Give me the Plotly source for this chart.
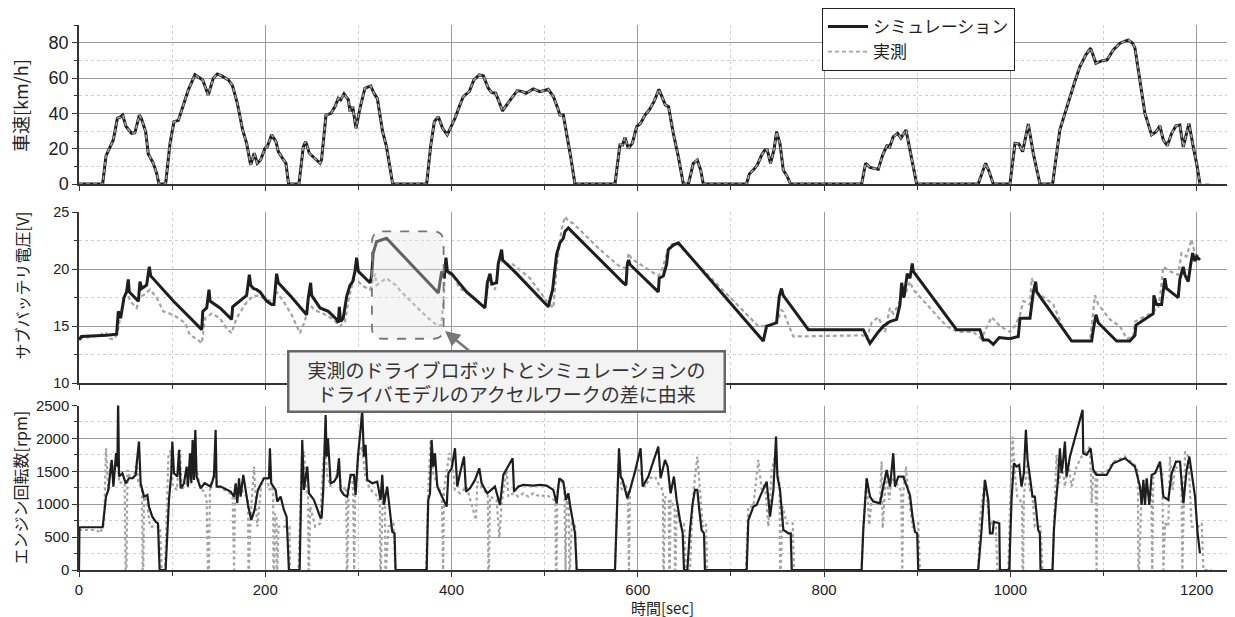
import plotly.graph_objects as go

# ---------------- data ----------------
speed_t = [0, 25.4, 29, 33.3, 36.9, 41.2, 44, 46.9, 50.5, 56.5, 60, 64.8, 67, 71.6, 74.4, 79.8, 83.4, 85.9, 93,
           97.7, 102, 106.7, 110.3, 113.8, 117.4, 124.5, 129, 132.8, 138.8, 144.2, 148.5, 153.2, 160.3, 164.6, 170,
           175.7, 180, 184.3, 188.2, 191.4, 195, 199.7, 202, 206.8, 211.5, 214, 218.6, 222.2, 225, 236.2, 240.8,
           243.4, 247.3, 253.4, 258.8, 260.4, 265.2, 270.6, 274.9, 278.4, 281, 284.5, 289.2, 291, 293.9, 297.4,
           301.7, 307, 313.2, 316.7, 320.3, 326, 330.2, 336.8, 373.3, 377.5, 381.5, 385.8, 390.4, 395.4, 398,
           403.7, 408.3, 412.6, 419, 424, 429.8, 434.1, 439.5, 443.1, 447.4, 451.3, 454.8, 459.2, 466.3, 470.6,
           476.3, 479.9, 487.8, 494.9, 503.9, 509.3, 514.6, 516.4, 520, 523.6, 527.9, 532.5, 575.5, 580.8, 583.7,
           586.2, 589.8, 594.1, 598.8, 603, 607.7, 612.4, 617.4, 622.7, 627.4, 629.5, 633, 638.1, 643.5, 648.9,
           654.3, 659.6, 663.9, 667.5, 670.3, 716.8, 719.7, 724.7, 728.3, 733, 736.5, 739, 742.5, 746.2, 749,
           752.6, 756.2, 760.5, 764.1, 840.3, 844.6, 849.2, 858.2, 862.9, 867.8, 870, 874.3, 879, 882.5, 888,
           892.2, 899.4, 965.5, 969.1, 973.4, 977, 981.7, 999.6, 1005, 1009.2, 1013.2, 1019.3, 1024.6, 1031.8,
           1045.4, 1049, 1053.2, 1058.6, 1064, 1069.3, 1074.7, 1081.1, 1086.2, 1091.9, 1098, 1104, 1110.5, 1117.7,
           1126.6, 1131.3, 1133.8, 1139.2, 1144.5, 1151.7, 1156.5, 1160.6, 1164.2, 1168.5, 1173.2, 1177.8, 1182,
           1185.7, 1191.8, 1196.4, 1200, 1203.6]
speed_sim = [0, 0, 15.9, 21, 25, 37.2, 37.8, 39, 32.5, 28.7, 29, 39, 37, 29.6, 17, 11.7, 6, 0, 0,
             23, 35.3, 36, 42, 46.6, 53.3, 61.8, 60, 58.9, 50.4, 59.9, 62.3, 61.2, 58.9, 56, 45.7,
             30.6, 23, 10.8, 17.4, 11.7, 13.6, 20.2, 21, 27.8, 24, 18.3, 14.5, 11.7, 0, 0, 21,
             24, 17.4, 14.5, 11.7, 13.6, 39, 40, 43.8, 48.5, 47.6, 51, 47.6, 41, 43.8, 31.5,
             42.9, 54.2, 55.5, 51.4, 48.5, 29.6, 21, 0, 0, 21, 35.3, 38.1, 31.5, 27.8, 30.6,
             37.2, 43.8, 49.5, 52.3, 58.9, 61.8, 61.2, 54.2, 51.7, 51.4, 46.6, 41.4, 44.8, 49.5, 52.9,
             52.3, 51.4, 53.8, 52.3, 53.6, 49.5, 42, 39, 39, 28.7, 15.5, 0, 0, 22.1, 22.1,
             26.4, 20.2, 23, 32.5, 34.4, 39, 42, 46.6, 53.6, 47.6, 44.8, 43.8, 28.7, 15.5, 0,
             0, 11.7, 13.6, 7.9, 0, 0, 5.7, 8.3, 10.8, 16.4, 19.3, 19.3, 11.7, 19.3, 29.6,
             23, 7.9, 4.2, 0, 0, 11.7, 9.4, 8.3, 16.4, 22.1, 20.2, 26.8, 28.7, 26, 30.6,
             19.3, 0, 0, 5.1, 11.7, 7.4, 0, 0, 23, 22.7, 18.3, 34, 17.4, 0,
             0, 14.5, 30.6, 40, 49.5, 58, 66.5, 73.1, 76.9, 68.4, 69.7, 70.3, 75.9, 79.7,
             81.6, 79.7, 76.9, 58.9, 40, 27.8, 29.6, 32.9, 25, 21.7, 28.7, 32.9, 33.4,
             21, 34.4, 21, 11.7, 0]
speed_meas_t = speed_t + [1216]
speed_meas = speed_sim + [0]

volt_sim_t = [0, 2.6, 29.6, 40.4, 42.2, 44.7, 48.3, 51.1, 52.9, 54, 63.7, 65.5, 67.3, 72.6, 75.5, 77, 101.3, 122.7,
              130, 131.8, 132.9, 137.1, 139.6, 140.7, 151.4, 162.1, 163.9, 165, 180, 182.9, 184.3, 187.2, 190.8,
              194.3, 201.5, 206.8, 209.3, 212.2, 214, 226.5, 240.8, 244.4, 246.2, 248.7, 249.8, 258.8, 267.7,
              276.6, 278.4, 279.5, 280.9, 283.7, 287.4, 291, 293.9, 296.3, 298.1, 299.9, 312.4, 314.2, 315.9,
              319.5, 330.2, 385.8, 389.4, 392.2, 394, 395.5, 400, 416.2, 435.9, 438.4, 441.3, 443.1, 448.4,
              450.2, 453.8, 454.9, 469.9, 503.9, 505.7, 508.5, 512.8, 516.4, 520, 521.8, 525.4, 529, 584.4,
              587.3, 588.7, 590.2, 591.6, 622, 623, 627.4, 630.9, 632.7, 638.1, 643.5, 734.7, 738.3, 741.9,
              749, 751.9, 754.3, 756.1, 783.1, 842.1, 849.3, 858.2, 863.6, 870.7, 877.9, 881.5, 883.3, 885.8,
              889.3, 892.2, 894.7, 895.8, 942.2, 967.3, 970.9, 976.3, 981.7, 988.1, 999.6, 1008.5, 1010.4,
              1021.1, 1024.7, 1027.2, 1028.3, 1065.8, 1087.3, 1089.1, 1091.9, 1094.4, 1114.1, 1128.4, 1133.8,
              1134.9, 1153.4, 1154.1, 1157, 1162.4, 1165.9, 1167.7, 1180.2, 1182, 1185.6, 1187.4, 1191,
              1193.6, 1195.7, 1198.2, 1200, 1203.6]
volt_sim = [13.8, 14.1, 14.2, 14.3, 16.3, 15.7, 17.5, 18.0, 19.1, 18.0, 17.2, 18.9, 18.3, 18.6, 20.2, 19.4, 17.2, 15.4,
            14.8, 14.7, 16.3, 16.6, 18.2, 17.2, 16.6, 15.7, 15.6, 16.7, 17.7, 19.5, 18.6, 18.3, 18.2,
            18.0, 17.2, 16.9, 16.9, 19.6, 18.8, 17.7, 16.3, 16.0, 17.5, 18.8, 17.7, 16.6, 16.3,
            15.6, 15.3, 16.7, 15.4, 15.7, 17.6, 18.6, 18.9, 19.8, 21.0, 19.8, 18.8, 19.4, 21.4,
            22.4, 22.7, 17.9, 19.8, 19.2, 21.0, 19.8, 19.6, 18.0, 16.6, 18.8, 19.6, 18.7, 18.8,
            20.5, 21.7, 20.8, 19.6, 16.7, 17.3, 18.2, 21.3, 22.3, 22.7, 23.3, 23.6, 23.3, 18.8,
            18.6, 20.4, 20.8, 20.4, 18.0, 19.2, 19.4, 20.4, 21.7, 22.1, 22.3, 13.7, 15.0, 15.1,
            15.3, 17.6, 18.3, 17.7, 14.7, 14.7, 13.5, 14.5, 15.0, 15.4, 15.6, 16.9, 18.8, 17.5,
            19.6, 19.2, 20.5, 19.8, 14.7, 14.7, 13.8, 13.8, 13.4, 14.0, 13.9, 14.1, 15.7,
            15.7, 18.0, 18.9, 18.0, 13.7, 13.7, 14.7, 16.0, 15.3, 13.7, 13.7, 14.2,
            15.1, 16.1, 17.7, 16.9, 16.9, 19.2, 18.3, 17.5, 19.1, 20.2, 19.5, 18.9,
            20.4, 21.4, 20.7, 21.1, 20.8]

volt_meas_t = [0, 22.5, 27.9, 33.3, 38.6, 42.2, 47.6, 51.1, 54.8, 61.9, 65.5, 69.1, 76.2, 83.4, 90.5, 97.7, 104.8,
               113.8, 119.2, 126.3, 131.8, 135.3, 142.4, 151.4, 158.5, 163.9, 169.2, 178.2, 187.2, 194.3, 201.5,
               208.6, 212.2, 219.4, 228.3, 233.7, 237.3, 239, 242.6, 246.2, 253.4, 262.3, 273, 280.2, 285.6,
               289.2, 294.5, 299.9, 305.3, 312.4, 315.9, 317.8, 319.5, 330, 340, 345, 366, 375, 385.8, 389,
               391, 393, 396.6, 402, 409.1, 421.6, 430.5, 435.9, 439.5, 443.1, 446.7, 451.7, 455.3, 466.3,
               484.2, 502.1, 509.3, 512.8, 518.2, 521.8, 525.4, 530.7, 559.4, 580.9, 588, 590, 593.4, 622,
               625.6, 630.9, 634.6, 641.6, 659.6, 702.5, 729.4, 738.3, 749, 754.3, 756.1, 766.9, 842.1, 845.7,
               851, 858.2, 865.4, 870.7, 874.3, 877.9, 883.3, 888, 892.2, 895.8, 910.1, 931.5, 944, 960.1,
               969, 972.6, 979.8, 988.8, 999.6, 1005, 1010.4, 1014, 1021.1, 1022.9, 1028.3, 1046.1, 1056.8,
               1065.8, 1085.5, 1090.9, 1094.4, 1106.9, 1117.7, 1124.9, 1132, 1133.8, 1149.9, 1158.8, 1161.3,
               1164.2, 1171.3, 1180.2, 1183.8, 1189.2, 1194.5, 1198.2, 1203.6]
volt_meas = [13.9, 14.2, 14.5, 13.9, 13.9, 14.8, 17.2, 18.2, 17.2, 16.6, 17.6, 17.7, 18.2, 17.5, 16.3, 16.1, 15.8,
             15.3, 14.2, 13.9, 13.5, 15.7, 16.1, 15.7, 14.8, 14.4, 15.7, 16.9, 17.7, 17.6, 17.3,
             17.2, 18.0, 17.2, 16.0, 15.0, 14.4, 14.8, 15.4, 17.0, 16.4, 16.1, 15.6, 15.0, 15.4,
             17.2, 19.1, 18.9, 18.5, 18.2, 19.2, 19.6, 18.6, 19.2, 18.6, 18.1, 16.4, 15.7, 15.0, 15.1,
             17.0, 19.5, 19.6, 19.4, 18.3, 17.7, 17.0, 16.7, 18.6, 18.8, 18.2, 21.0, 20.5, 20.4,
             19.2, 17.2, 16.6, 20.1, 23.5, 24.6, 24.2, 24.0, 21.7, 20.2, 20.1, 21.4, 20.9, 19.4,
             19.8, 21.3, 22.1, 22.3, 20.8, 17.2, 15.0, 15.0, 15.3, 16.4, 16.3, 14.1, 14.2, 13.9,
             15.3, 15.8, 14.5, 16.6, 16.1, 16.6, 17.5, 18.0, 18.9, 18.2, 16.9, 15.0, 14.5, 14.5,
             13.9, 14.5, 15.8, 15.0, 14.5, 15.0, 16.0, 17.2, 16.9, 19.2, 18.0, 16.9, 14.8,
             13.7, 13.7, 17.7, 16.9, 15.6, 15.0, 13.9, 14.1, 15.4, 16.1, 16.6, 18.0,
             20.2, 19.8, 19.5, 21.4, 21.1, 22.6, 21.4, 21.0]

rpm_sim_t = [0, 0.5, 25.4, 29, 31.5, 35.1, 36.9, 39.8, 41.2, 42, 43, 46.6, 50.2, 53.7, 57.3, 60.9, 62.7, 64.4, 66.2,
             69.8, 73.4, 75.1, 78.7, 82.3, 84.8, 86.6, 93, 96.6, 99.1, 100.2, 102, 105.6, 107.4, 109.2, 112.7,
             115.6, 117, 119.2, 120.6, 122, 123.5, 124.9, 126.3, 130.6, 134.9, 137.8, 141.3, 144.9, 146.7, 147.8,
             152.1, 162.8, 166.4, 168.2, 170, 171.8, 173.5, 176.4, 178.9, 181.4, 185, 188.5, 192.1, 198.6, 204,
             205, 206.4, 211.1, 212.9, 216.5, 220, 222.9, 225.4, 236.9, 239.7, 241.5, 245.1, 246.9, 252.3,
             258.7, 260.5, 262.3, 264.8, 265.9, 267.3, 270.2, 273.8, 277.3, 279.1, 280.9, 284.5, 288, 291.6,
             295.2, 297, 299.5, 302.3, 304.1, 305.9, 307.7, 309.5, 314.9, 320.2, 323.8, 325.6, 327.4, 330.9,
             334.5, 336.3, 338.8, 339.9, 373.3, 375, 376.9, 378.6, 380.4, 382.2, 384.7, 389.4, 394.8, 396.6,
             400.1, 403.7, 406.2, 409.1, 413.4, 415.5, 419.8, 425.2, 429.8, 432.3, 438.4, 446.6, 452, 455.6,
             461, 465.6, 467.1, 471.8, 477.1, 487.8, 495, 502.1, 509.3, 512.8, 515.7, 520, 522.9, 525.4, 527.2,
             530.1, 532.6, 534.4, 575.5, 578, 579.8, 581.6, 583.7, 588.7, 591.6, 597, 599.8, 603, 605.2, 611.3,
             616.6, 622, 624.5, 629.2, 632, 635.2, 638.8, 641.7, 645.3, 648.2, 649.6, 653.2, 656, 658.9, 661.4,
             663.9, 666, 668.5, 671.1, 672.1, 716.9, 718.7, 724.1, 727.6, 731.2, 734.8, 738.4, 742, 745.6,
             748.4, 749.9, 752.7, 756.3, 761.7, 764.2, 765.3, 840.3, 842.1, 845.7, 849.3, 852.9, 860, 867.2,
             870.8, 874.3, 876.1, 879.7, 885, 888.6, 892.2, 895, 897.5, 900, 901.1, 965.5, 969.1, 972.7, 976.3,
             978.1, 980.9, 982.3, 988.1, 988.8, 998.8, 1001.3, 1003.8, 1006.7, 1009.5, 1012, 1014.5, 1016.7,
             1018.5, 1021, 1023.8, 1026.3, 1029.9, 1031.7, 1032.4, 1045.3, 1046.8, 1048.9, 1051.4, 1053.2, 1055,
             1056.8, 1058.6, 1060.4, 1064, 1077.6, 1078.3, 1081.9, 1086.2, 1089.1, 1092.6, 1103.4, 1110.5, 1123,
             1133.8, 1139.2, 1141, 1142.8, 1144.6, 1146.4, 1149.2, 1151.7, 1155.3, 1160.7, 1164.3, 1169.6,
             1173.2, 1177.9, 1182.2, 1185.8, 1189.3, 1192.2, 1198.3, 1201.1, 1203.6]
rpm_sim = [0, 650, 650, 1115, 1217, 1673, 1268, 1775, 1572, 2600, 1420, 1470, 1318, 1394, 1394, 1445, 1724, 1952, 1318,
           1115, 1141, 963, 811, 735, 710, 0, 0, 1065, 1470, 1952, 1470, 1420, 1825, 1242, 1318,
           1572, 1268, 1775, 1318, 1977, 1369, 2129, 1420, 1242, 1318, 1293, 1268, 1420, 2129, 1268,
           1268, 1191, 1115, 1318, 1014, 1394, 1115, 1445, 1217, 989, 760, 913, 1217, 1394, 1394,
           1850, 1318, 1217, 1039, 1115, 913, 811, 0, 0, 1977, 1217, 1572, 1166, 1065,
           811, 786, 1217, 2357, 1724, 2003, 1318, 1343, 1420, 1698, 1217, 1141, 1115, 1445,
           1445, 1141, 1724, 2129, 2433, 1724, 1901, 1369, 1318, 1343, 1065, 1445, 989, 1268,
           811, 583, 558, 0, 0, 1065, 1166, 1977, 1572, 1775, 1268, 1115, 963, 1470,
           1546, 1850, 1268, 1470, 1724, 1191, 1242, 1369, 1546, 1318, 1166, 1268, 989, 1445,
           1572, 1698, 1191, 1268, 1293, 1283, 1293, 1283, 1217, 1014, 1394, 1343, 1065, 1166, 989,
           786, 558, 0, 0, 1065, 1850, 1420, 1369, 1090, 1217, 1496, 1648, 1850, 1268, 1420,
           1648, 1876, 1394, 1673, 1572, 1166, 1420, 1065, 760, 558, 0, 0, 608, 1014, 1217,
           1217, 913, 608, 558, 0, 0, 760, 963, 989, 1115, 1217, 1343, 811, 1217,
           2028, 1420, 1217, 608, 558, 558, 0, 0, 608, 1394, 1115, 1039, 1014, 1521,
           1268, 1775, 1268, 1420, 1420, 1268, 1141, 811, 583, 558, 0, 0, 608, 1369, 1065,
           558, 558, 735, 710, 0, 0, 1065, 1622, 1572, 1597, 1268, 1470, 2129,
           1673, 1420, 1115, 1115, 608, 558, 0, 0, 608, 1014, 1420, 1850, 1470,
           1673, 1952, 1420, 1724, 2433, 1775, 1749, 1850, 1521, 1445, 1445, 1622, 1698,
           1572, 1268, 989, 1369, 989, 1394, 989, 1445, 1470, 1648, 1115, 1065,
           1470, 1648, 1648, 1014, 1521, 1724, 1115, 558, 254]

rpm_meas_t = [0, 19, 22.6, 26.9, 29, 31.5, 34, 36.9, 41.2, 43.3, 46.9, 49, 50, 51, 52, 54.8, 58.4, 62, 63.7, 67.5,
              68.4, 69, 69.8, 72.6, 76.2, 83.4, 87, 88.8, 92.4, 96, 98.5, 100.6, 105, 108.4, 110.2, 115.6, 119.2,
              122.8, 126.3, 129.9, 135.3, 137, 138.5, 139.5, 140.6, 146, 148.5, 153.2, 162.2, 165, 165.7, 166.5,
              167.5, 174.7, 180.1, 181.5, 181.9, 182.5, 184.3, 187.9, 191.5, 196.2, 201.5, 204.4, 207, 208.5,
              208.8, 209.5, 210.5, 212, 212.4, 213, 214.2, 221.4, 226, 226.7, 235.7, 239.3, 241.8, 243.9, 246,
              246.4, 247, 248.2, 253.6, 259, 261.8, 264.3, 266.1, 269.7, 275.1, 278.7, 282.3, 285.9, 287, 287.6,
              288.2, 289.4, 292, 294.3, 294.8, 295.4, 296.6, 300.2, 303.8, 307.4, 312.7, 318.1, 321.7, 323,
              323.5, 324, 326.4, 328.5, 328.9, 329.5, 332.4, 337.8, 339.6, 372.6, 375, 377.6, 380.4, 384,
              389.5, 390.5, 391, 391.9, 397.6, 401.2, 403.7, 409.1, 416.2, 426.2, 427.7, 434.1, 439, 439.5,
              440.2, 441.3, 448.4, 451.3, 453.8, 459.2, 461, 466.4, 471.8, 477.1, 482.5, 487.8, 495, 502.1,
              510, 511.5, 512.1, 512.8, 513.6, 516.4, 521.2, 521.8, 522.4, 523.6, 526, 526.5, 527.2, 529,
              532.6, 534.4, 575.5, 578, 580.2, 582.7, 586.2, 589.3, 589.8, 590.5, 591.6, 597, 602.3, 607.7,
              613.1, 618.5, 622, 627, 627.4, 628, 629.2, 633.3, 633.8, 634.4, 635.2, 639.4, 639.9, 640.5,
              641.7, 646, 649.6, 651.7, 656, 658.9, 661.4, 663.9, 666.8, 669.6, 673.2, 674.6, 716.1, 718.7,
              724.1, 729.4, 733, 736.6, 740.2, 743.8, 747.3, 750.9, 752.3, 752.7, 753.5, 755.6, 759.9, 766.3,
              767.8, 840.3, 842.1, 845.7, 848.5, 851, 860, 861.8, 862.9, 866.5, 870, 872.5, 877.9, 882.8,
              883.3, 884, 885, 887.9, 890.4, 895, 901.1, 902.9, 965.5, 967.3, 972.7, 978.1, 981.7, 984.5,
              986, 997.8, 1000.3, 1002.4, 1004.9, 1007.4, 1010.3, 1012.6, 1013.1, 1013.8, 1014.5, 1018.1,
              1021, 1023.8, 1026.3, 1032.4, 1034.6, 1045.3, 1046.8, 1049.6, 1052.5, 1055, 1058.6, 1062.1,
              1065.7, 1071.1, 1076.5, 1085.5, 1087.3, 1089.1, 1091.4, 1091.9, 1092.6, 1093.4, 1103.4, 1110.5,
              1123, 1133.8, 1137, 1137.4, 1138.2, 1141, 1146.4, 1151.2, 1151.7, 1152.4, 1153.5, 1160.7,
              1163.2, 1163.6, 1164.3, 1166.1, 1169.6, 1171.4, 1174.3, 1176.8, 1182.2, 1183.6, 1184, 1184.7,
              1185.8, 1187.6, 1191.1, 1194.7, 1201.9, 1205.5, 1207.3, 1216.2]
rpm_meas = [608, 608, 558, 710, 1850, 1217, 1622, 1521, 1749, 1318, 1343, 1300, 0, 0, 1521, 1394, 1394, 1648, 1318, 1250,
            0, 0, 1115, 1065, 659, 659, 659, 0, 0, 1724, 1825, 1268, 1217, 1825, 1217, 1318, 1420,
            1394, 1521, 1268, 1166, 1065, 0, 0, 1217, 1546, 1268, 1242, 1166, 1100, 0, 0,
            1115, 1217, 1115, 1050, 0, 0, 811, 1572, 659, 1369, 1420, 1217, 1268, 1200,
            0, 0, 862, 800, 0, 0, 659, 659, 659, 0, 0, 1724, 1800, 1217, 1150,
            0, 0, 963, 659, 710, 1572, 1977, 1470, 1268, 1369, 1572, 1166, 1268, 1200, 0,
            0, 1217, 1420, 1300, 0, 0, 1268, 1724, 1876, 1420, 1217, 1166, 1065, 1000,
            0, 0, 1217, 1100, 0, 0, 659, 710, 0, 0, 1217, 1977, 1470, 1318,
            1150, 0, 0, 1217, 1775, 1572, 1217, 1166, 1268, 760, 1343, 1217, 1150, 0,
            0, 1115, 1065, 482, 1014, 1521, 1115, 1166, 1115, 1166, 1115, 1166, 1115, 1141,
            1065, 1050, 0, 0, 1217, 1394, 1250, 0, 0, 1065, 1000, 0, 0, 710,
            684, 0, 0, 1166, 1724, 1217, 1318, 1200, 0, 0, 1217, 1496, 1521, 1268,
            1394, 1420, 1318, 1200, 0, 0, 1115, 1050, 0, 0, 1065, 950, 0, 0,
            913, 659, 710, 0, 0, 1014, 1420, 1724, 1217, 659, 710, 0, 0, 963,
            963, 1673, 1217, 1318, 659, 1521, 1724, 1369, 1300, 0, 0, 963, 710, 710,
            0, 0, 710, 1369, 684, 1065, 1014, 1648, 634, 1470, 1065, 1394, 1318, 1200,
            0, 0, 1166, 1572, 1166, 659, 710, 0, 0, 760, 1369, 659, 760, 659,
            0, 0, 1268, 2028, 1470, 1115, 1065, 1000, 0, 0, 1115, 1622,
            1217, 1115, 659, 659, 0, 0, 710, 1749, 1318, 1673, 1268, 1648,
            1268, 1572, 1724, 1876, 1014, 1521, 1450, 0, 0, 1470, 1496, 1648,
            1724, 1597, 1500, 0, 0, 1217, 1369, 1350, 0, 0, 1420, 1597,
            1500, 0, 0, 710, 659, 1724, 1217, 1572, 1521, 1450, 0, 0,
            710, 1800, 1724, 659, 659, 710, 0, 0]

x_ticks = [0, 200, 400, 600, 800, 1000, 1200]
names = ["シミュレーション", "実測"]
callout_text = "実測のドライブロボットとシミュレーションの<br>ドライバモデルのアクセルワークの差に由来"

# ---------------- styles ----------------
SIM = "#1e1e1e"
MEAS = "#a3a3a3"
FONT = "Liberation Sans, Arial, Noto Sans CJK JP"
JFONT = "Noto Sans CJK JP, Liberation Sans"
GRID = "#9c9c9c"
MINORGRID = "#cfcfcf"

# The page has an 8px body margin, so the figure is drawn 8px in from the window corner.
OFF = 8
FIG_W, FIG_H = 1235 - OFF, 617 - OFF
ML, MR, MT, MB = 79 - OFF, 3, 0, 47
PH = FIG_H - MT - MB
PW = FIG_W - ML - MR
PLOT_BOTTOM_PAGE = OFF + FIG_H - MB  # page y of the paper's y=0


def py(ypx):  # window pixel y -> paper fraction
    return (PLOT_BOTTOM_PAGE - ypx) / PH


def px(xpx):  # window pixel x -> paper fraction
    return (xpx - OFF - ML) / PW


fig = go.Figure()

# top: speed
fig.add_trace(go.Scatter(x=speed_t, y=speed_sim, mode="lines", name=names[0], legendgroup="sim",
                         line=dict(color=SIM, width=3), xaxis="x", yaxis="y"))
fig.add_trace(go.Scatter(x=speed_meas_t, y=speed_meas, mode="lines", name=names[1], legendgroup="meas",
                         line=dict(color=MEAS, width=1.6, dash="4px,3px"), xaxis="x", yaxis="y"))
# middle: voltage
fig.add_trace(go.Scatter(x=volt_meas_t, y=volt_meas, mode="lines", name=names[1], legendgroup="meas",
                         showlegend=False, line=dict(color=MEAS, width=2.2, dash="4px,3px"),
                         xaxis="x2", yaxis="y2"))
fig.add_trace(go.Scatter(x=volt_sim_t, y=volt_sim, mode="lines", name=names[0], legendgroup="sim",
                         showlegend=False, line=dict(color=SIM, width=3), xaxis="x2", yaxis="y2"))
# bottom: rpm
fig.add_trace(go.Scatter(x=rpm_meas_t, y=rpm_meas, mode="lines", name=names[1], legendgroup="meas",
                         showlegend=False, line=dict(color=MEAS, width=2.2, dash="dot"),
                         xaxis="x3", yaxis="y3"))
fig.add_trace(go.Scatter(x=rpm_sim_t, y=rpm_sim, mode="lines", name=names[0], legendgroup="sim",
                         showlegend=False, line=dict(color=SIM, width=2.2), xaxis="x3", yaxis="y3"))


def xaxis(anchor, labels):
    return dict(anchor=anchor, domain=[0, 1], range=[0, 1238], tickmode="array", tickvals=x_ticks,
                showticklabels=labels, tickfont=dict(family=FONT, size=15, color="#222"),
                showline=True, linecolor="#333", linewidth=1.5, ticks="outside", ticklen=5,
                tickcolor="#333", showgrid=True, gridcolor=GRID, gridwidth=1, zeroline=False,
                automargin=False,
                minor=dict(dtick=100, tick0=0, showgrid=True, gridcolor=MINORGRID, griddash="dot",
                           ticks="outside", ticklen=4, tickcolor="#333"))


def yaxis(anchor, dom, rng, dtick, mdtick, fsize):
    return dict(anchor=anchor, domain=dom, range=rng, dtick=dtick, tick0=0,
                tickfont=dict(family=FONT, size=fsize, color="#222"),
                showline=True, linecolor="#333", linewidth=1.5, ticks="outside", ticklen=5,
                tickcolor="#333", showgrid=True, gridcolor=GRID, gridwidth=1, zeroline=False,
                automargin=False,
                minor=dict(dtick=mdtick, showgrid=True, gridcolor=MINORGRID, griddash="dot",
                           ticks="outside", ticklen=3, tickcolor="#333"))


# dashed rounded box around the discrepancy (data coords of middle panel)
bx0, bx1, by0, by1 = 314.5, 391.5, 13.9, 23.3
rx, ry = 11, 1.0
box_path = (f"M {bx0+rx},{by1} L {bx1-rx},{by1} Q {bx1},{by1} {bx1},{by1-ry} "
            f"L {bx1},{by0+ry} Q {bx1},{by0} {bx1-rx},{by0} L {bx0+rx},{by0} "
            f"Q {bx0},{by0} {bx0},{by0+ry} L {bx0},{by1-ry} Q {bx0},{by1} {bx0+rx},{by1} Z")

fig.update_layout(
    width=FIG_W, height=FIG_H,
    margin=dict(l=ML, r=MR, t=MT, b=MB),
    paper_bgcolor="white", plot_bgcolor="white",
    font=dict(family=FONT, color="#222"),
    xaxis=xaxis("y", False),
    xaxis2=xaxis("y2", False),
    xaxis3=xaxis("y3", True),
    yaxis=yaxis("x", [py(184), py(25)], [0, 90], 20, 10, 18),
    yaxis2=yaxis("x2", [py(383.3), py(212)], [10, 25], 5, 2.5, 14.5),
    yaxis3=yaxis("x3", [0.0, py(405.5)], [0, 2500], 500, 250, 15),
    showlegend=True,
    legend=dict(x=px(822), y=py(8), xanchor="left", yanchor="top", bgcolor="white",
                bordercolor="#222", borderwidth=1, font=dict(family=JFONT, size=17, color="#222"),
                itemwidth=40, tracegroupgap=0),
    shapes=[dict(type="path", path=box_path, xref="x2", yref="y2", layer="above",
                 fillcolor="rgba(225,225,225,0.35)", line=dict(color="#777", width=1.8, dash="dash"))],
    annotations=[
        dict(text="車速[km/h]", xref="paper", yref="paper", x=px(20), y=py(106), textangle=-90,
             showarrow=False, font=dict(family=JFONT, size=18, color="#222"), xanchor="center", yanchor="middle"),
        dict(text="サブバッテリ電圧[V]", xref="paper", yref="paper", x=px(21), y=py(285.5), textangle=-90,
             showarrow=False, font=dict(family=JFONT, size=16, color="#222"), xanchor="center", yanchor="middle"),
        dict(text="エンジン回転数[rpm]", xref="paper", yref="paper", x=px(19), y=py(487.5), textangle=-90,
             showarrow=False, font=dict(family=JFONT, size=16, color="#222"), xanchor="center", yanchor="middle"),
        dict(text="時間[sec]", xref="paper", yref="paper", x=px(662), y=py(607), showarrow=False,
             font=dict(family=JFONT, size=15, color="#222"), xanchor="center", yanchor="middle"),
        dict(text=callout_text, xref="paper", yref="paper", x=px(445), y=py(331),
             ax=61, ay=50, axref="pixel", ayref="pixel", showarrow=True, arrowhead=2, arrowsize=1.2,
             arrowwidth=2.5, arrowcolor="#777", standoff=0,
             font=dict(family=JFONT, size=19, color="#333"), align="center",
             bgcolor="#f3f3f3", bordercolor="#666", borderwidth=2.5, borderpad=3, width=428),
    ],
)

fig.write_html("out.html")
